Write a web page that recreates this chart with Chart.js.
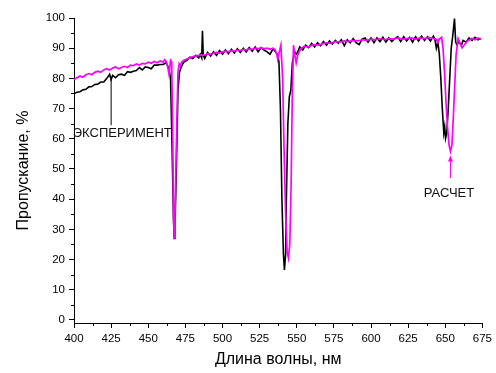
<!DOCTYPE html>
<html>
<head>
  <meta charset="utf-8">
  <script src="https://cdn.jsdelivr.net/npm/chart.js"></script>
  <style>
    body { margin: 0; background: #fff; }
  </style>
</head>
<body>
  <canvas id="spectrum" width="496" height="373"></canvas>
<script>
  // Experiment (black)
  var expWl = [400, 402, 404, 406, 408, 410, 412, 414, 416, 418, 420, 422, 423, 424, 425, 426, 428, 430, 432, 434,
    436, 438, 440, 442, 444, 446, 448, 450, 452, 454, 456, 458, 460, 462, 463, 464, 465, 466, 467, 467.5,
    468, 469, 470, 471, 472, 473, 474, 476, 478, 480, 482, 484, 485, 486, 486.5, 487, 488, 490, 492, 494,
    496, 498, 500, 502, 504, 506, 508, 510, 512, 514, 516, 518, 520, 522, 524, 526, 528, 530, 532, 534,
    536, 537, 538, 539, 540, 541, 541.7, 542.5, 543, 544, 545, 546, 547, 548, 549, 550, 552, 554, 556, 558,
    560, 562, 564, 566, 568, 570, 572, 574, 576, 578, 580, 582, 584, 586, 588, 590, 592, 594, 596, 598,
    600, 602, 604, 606, 608, 610, 612, 614, 616, 618, 620, 622, 624, 626, 628, 630, 632, 634, 636, 638,
    640, 642, 643, 644, 645, 646, 647, 648, 649, 649.6, 650.2, 651, 652, 653, 654, 655, 656.2, 657, 658, 659,
    660, 661, 662, 664, 666, 668, 670, 672, 674];
  var expT = [75.0, 75.4, 75.6, 76.2, 76.4, 77.2, 77.3, 78.0, 78.1, 78.8, 78.8, 80.0, 80.6, 81.4, 79.6, 81.0, 80.2, 81.2, 81.4, 81.0,
    82.2, 82.0, 82.4, 82.6, 83.6, 82.8, 83.8, 83.6, 83.2, 84.4, 84.4, 84.6, 84.6, 85.2, 84.2, 83.0, 80.0, 58, 33, 27,
    31, 52, 76, 82.0, 83.5, 84.6, 85.4, 86.0, 87.0, 86.6, 87.6, 86.8, 88.0, 86.8, 95.8, 87.8, 86.6, 88.6, 87.4, 88.8,
    87.6, 89.2, 88.0, 89.4, 88.2, 89.6, 88.4, 89.8, 88.6, 90.0, 88.8, 90.2, 89.0, 90.4, 88.8, 90.2, 89.4, 88.8, 88.0, 89.8,
    88.6, 88.0, 85.5, 70, 40, 22, 16.6, 22, 40, 65, 74, 76, 85, 87.5, 88.6, 88.0, 90.4, 89.4, 91.0, 90.2,
    91.6, 90.4, 91.8, 90.8, 92.2, 91.0, 92.4, 91.4, 92.6, 91.6, 92.8, 90.8, 92.8, 91.8, 93.2, 91.8, 91.2, 93.0, 93.4, 92.0,
    93.4, 91.8, 93.4, 92.2, 93.6, 92.0, 93.4, 92.2, 93.2, 93.8, 92.2, 93.8, 92.4, 93.6, 92.0, 93.8, 92.4, 94.0, 92.6, 93.8,
    92.4, 94.0, 93.0, 90.0, 92.0, 88, 80, 70, 62, 64, 60.2, 62, 70, 80, 90, 94, 99.8, 92, 91.0, 92.4,
    91.6, 91.2, 92.6, 92.0, 93.4, 92.6, 93.6, 92.8, 93.2];

  // Calculation (magenta)
  var calcWl = [400, 402, 404, 406, 408, 410, 412, 414, 416, 418, 420, 422, 424, 426, 428, 430, 432, 434, 436, 438,
    440, 442, 444, 446, 448, 450, 452, 454, 456, 458, 460, 461, 462, 463, 464, 465, 465.8, 466.5, 467, 467.5,
    468, 469, 470, 470.8, 471.5, 472.5, 474, 476, 478, 480, 482, 484, 486, 488, 490, 492, 494, 496, 498, 500,
    502, 504, 506, 508, 510, 512, 514, 516, 518, 520, 522, 524, 526, 528, 530, 532, 534, 535.5, 536.5, 537.2,
    538.2, 539.3, 540.5, 541.5, 542.5, 543.5, 544.4, 545.3, 546.2, 547, 547.8, 548.6, 549.6, 550.5, 551.8, 553, 555, 558,
    560, 562, 565, 568, 570, 573, 576, 579, 582, 585, 588, 591, 594, 597, 600, 603, 606, 609, 612, 615,
    618, 621, 624, 627, 630, 633, 636, 639, 642, 644, 645, 646, 647.5, 648.5, 649.5, 650.5, 651.5, 652.5, 653.5, 654.5,
    655.5, 656.4, 657.3, 658.6, 660, 661.3, 663, 665, 668, 670, 672, 674];
  var calcT = [79.6, 80.2, 80.8, 80.4, 81.2, 81.6, 81.2, 82.0, 82.4, 82.0, 82.8, 83.2, 82.8, 83.4, 83.8, 83.2, 83.6, 84.0, 83.6, 84.4,
    84.2, 84.8, 84.4, 85.0, 84.8, 85.4, 85.0, 85.6, 85.2, 85.8, 85.4, 86.2, 85.6, 84.0, 81.3, 86.0, 85.5, 60, 35, 27.2,
    35, 60, 82, 84.8, 84.0, 85.4, 86.0, 86.4, 86.8, 87.2, 87.4, 87.6, 87.8, 87.6, 88.2, 88.0, 88.4, 88.6, 88.4, 88.8,
    89.0, 88.8, 89.2, 89.0, 89.4, 89.2, 89.6, 89.4, 89.8, 89.6, 90.0, 89.8, 90.2, 89.8, 90.0, 89.6, 90.0, 89.4, 88.0, 86.2,
    88.6, 91.0, 80, 55, 35, 22.5, 20.5, 25, 45, 75, 91.0, 88, 85.1, 87.5, 89.0, 90.0, 90.6, 90.4,
    91.0, 91.2, 91.0, 91.6, 91.8, 91.6, 92.2, 92.0, 92.4, 92.2, 92.6, 92.4, 92.8, 92.6, 93.0, 92.8, 93.2, 92.8, 93.2, 93.0,
    93.4, 93.0, 93.2, 93.4, 93.0, 93.4, 93.2, 93.6, 93.2, 93.0, 91.8, 93.0, 93.6, 90, 82, 72, 64, 58, 55.8, 58,
    68, 78, 88, 93.2, 91.5, 90.1, 91.2, 92.4, 93.2, 92.8, 93.4, 93.0];

  // Axis ticks
  var xTicks = [400, 425, 450, 475, 500, 525, 550, 575, 600, 625, 650, 675];
  var xMinor = [412.5, 437.5, 462.5, 487.5, 512.5, 537.5, 562.5, 587.5, 612.5, 637.5, 662.5];
  var yTicks = [0, 10, 20, 30, 40, 50, 60, 70, 80, 90, 100];
  var yMinor = [5, 15, 25, 35, 45, 55, 65, 75, 85, 95];

  function pairs(xs, ys) {
    return xs.map(function (v, i) { return { x: v, y: ys[i] }; });
  }

  Chart.defaults.font.family = '"Liberation Sans", Arial, sans-serif';
  Chart.defaults.color = '#000';

  // minor ticks and the two labelled arrows
  var extras = {
    id: 'extras',
    afterDraw: function (chart) {
      var ctx = chart.ctx, x = chart.scales.x, y = chart.scales.y;
      ctx.save();
      ctx.strokeStyle = '#000';
      ctx.lineWidth = 1;
      xMinor.forEach(function (v) {
        var px = Math.round(x.getPixelForValue(v)) + 0.5;
        ctx.beginPath(); ctx.moveTo(px, y.bottom); ctx.lineTo(px, y.bottom + 3); ctx.stroke();
      });
      yMinor.forEach(function (v) {
        var py = Math.round(y.getPixelForValue(v)) + 0.5;
        ctx.beginPath(); ctx.moveTo(x.left, py); ctx.lineTo(x.left - 3, py); ctx.stroke();
      });

      // experiment arrow
      var ax = x.getPixelForValue(425);
      ctx.beginPath();
      ctx.moveTo(ax, y.getPixelForValue(80.5));
      ctx.lineTo(ax, y.getPixelForValue(64.5));
      ctx.stroke();

      // calculation arrow
      var bx = x.getPixelForValue(653.5);
      var tip = y.getPixelForValue(54.5);
      ctx.strokeStyle = '#ff00ff';
      ctx.fillStyle = '#ff00ff';
      ctx.beginPath();
      ctx.moveTo(bx, tip + 4);
      ctx.lineTo(bx, y.getPixelForValue(47));
      ctx.stroke();
      ctx.beginPath();
      ctx.moveTo(bx, tip);
      ctx.lineTo(bx - 2.5, tip + 6);
      ctx.lineTo(bx + 2.5, tip + 6);
      ctx.closePath();
      ctx.fill();

      ctx.fillStyle = '#111';
      ctx.font = '13px "Liberation Sans", Arial, sans-serif';
      ctx.textAlign = 'center';
      ctx.textBaseline = 'middle';
      ctx.fillText('ЭКСПЕРИМЕНТ', x.getPixelForValue(432.5), y.getPixelForValue(61.8));
      ctx.fillText('РАСЧЕТ', x.getPixelForValue(652.5), y.getPixelForValue(42));
      ctx.restore();
    }
  };

  var axisGrid = {
    drawOnChartArea: false,
    drawTicks: true,
    tickLength: 5,
    color: '#000',
    tickColor: '#000'
  };

  var chart = new Chart(document.getElementById('spectrum').getContext('2d'), {
    type: 'line',
    data: {
      datasets: [
        {
          label: 'ЭКСПЕРИМЕНТ',
          data: pairs(expWl, expT),
          borderColor: '#000',
          borderWidth: 1.6,
          pointRadius: 0,
          order: 1
        },
        {
          label: 'РАСЧЕТ',
          data: pairs(calcWl, calcT),
          borderColor: '#ff00ff',
          borderWidth: 1.7,
          pointRadius: 0,
          order: 0
        }
      ]
    },
    options: {
      responsive: false,
      animation: false,
      layout: { padding: { top: 18, right: 12, left: 0, bottom: 0 } },
      plugins: {
        legend: { display: false },
        tooltip: { enabled: false }
      },
      scales: {
        x: {
          type: 'linear',
          min: 400,
          max: 675,
          afterFit: function (s) { s.height = 50; },
          afterBuildTicks: function (s) { s.ticks = xTicks.map(function (v) { return { value: v }; }); },
          ticks: { font: { size: 11.5 }, padding: 4, maxRotation: 0, autoSkip: false },
          grid: axisGrid,
          border: { display: true, color: '#000', width: 1 },
          title: { display: true, text: 'Длина волны, нм', font: { size: 16 }, padding: { top: 0, bottom: 4 } }
        },
        y: {
          type: 'linear',
          min: -1,
          max: 100,
          afterFit: function (s) { s.width = 74; },
          afterBuildTicks: function (s) { s.ticks = yTicks.map(function (v) { return { value: v }; }); },
          ticks: { font: { size: 11.5 }, padding: 4 },
          grid: axisGrid,
          border: { display: true, color: '#000', width: 1 },
          title: { display: true, text: 'Пропускание, %', font: { size: 16 }, padding: { top: 14, bottom: 0 } }
        }
      }
    },
    plugins: [extras]
  });
</script>
</body>
</html>
